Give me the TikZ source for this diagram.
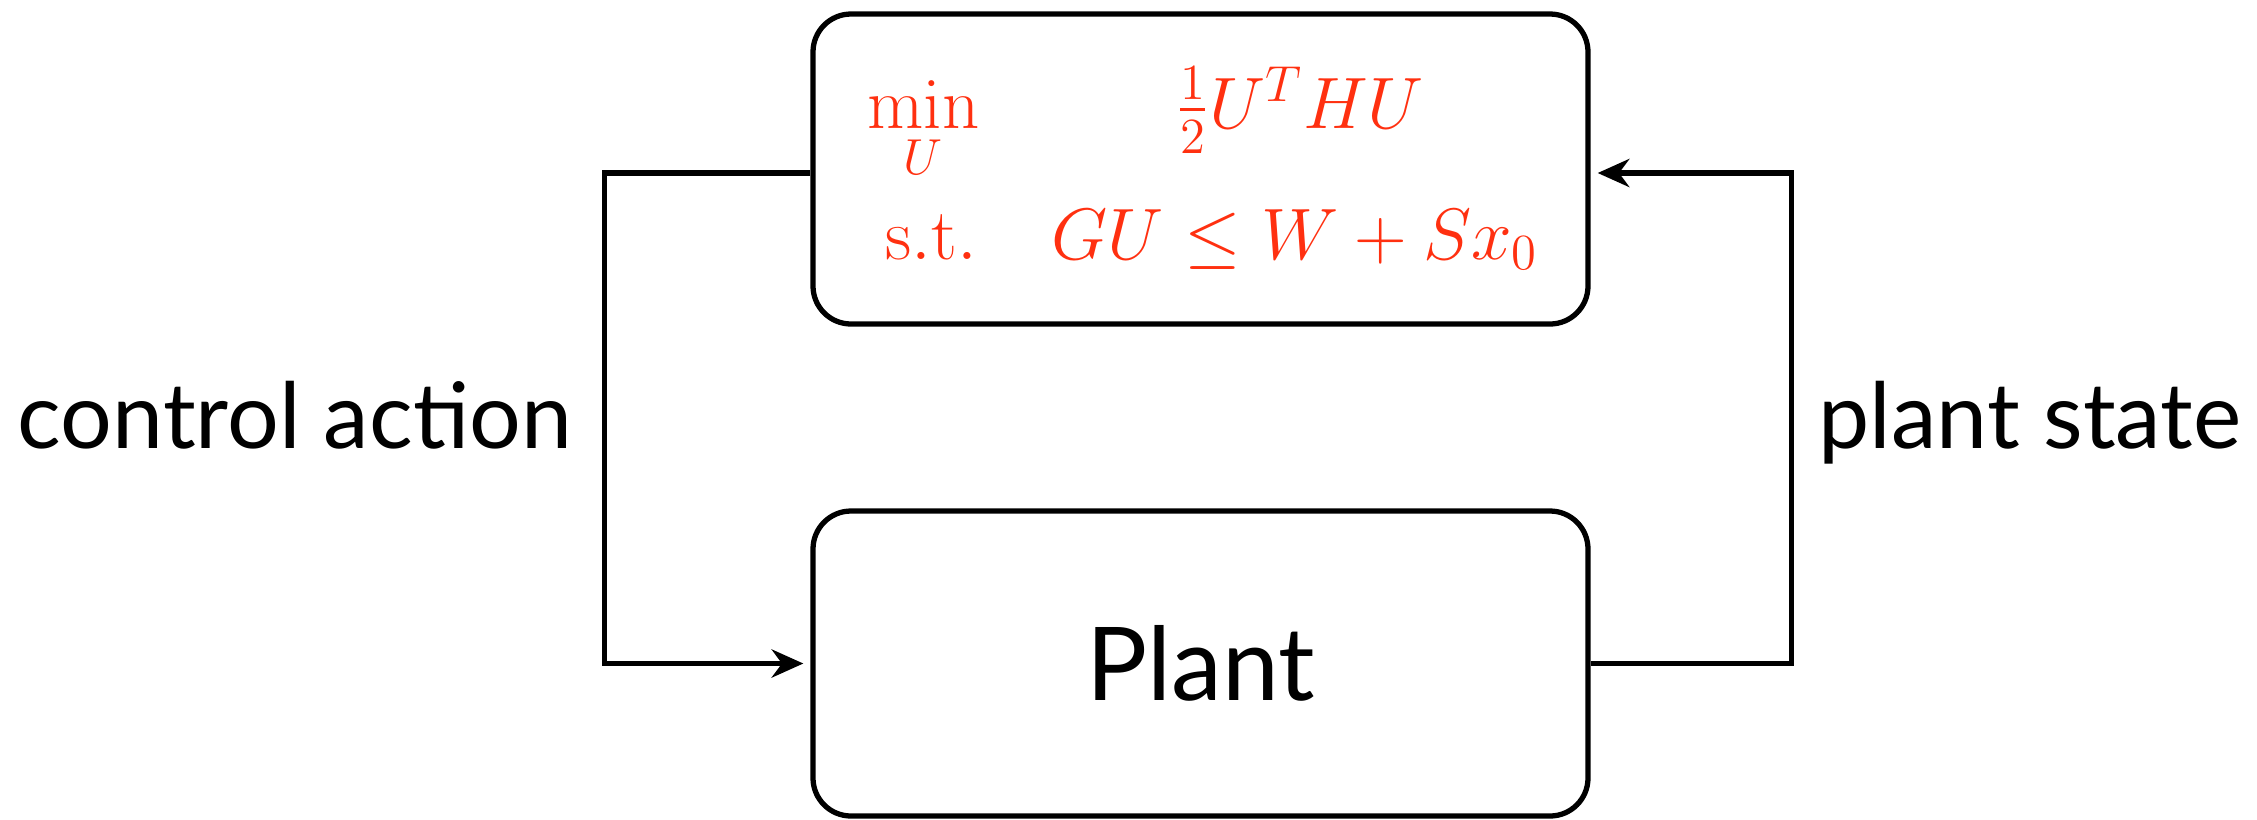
\documentclass[tikz,border=0pt]{standalone}
\usepackage{amsmath,amssymb}
\usepackage[no-math]{fontspec}
\setmainfont{Lato}
\usepackage{tikz}
\usetikzlibrary{arrows.meta,positioning,calc}
\usepackage{xcolor}
\definecolor{qpred}{HTML}{FF3010}

\tikzset{
  block/.style={draw, line width=1.5pt, rounded corners=0.38cm,
    minimum width=7.75cm, inner sep=0pt},
  flow/.style={draw, line width=1.5pt, -{Stealth[length=9pt,width=8pt]},
    shorten >=2pt},
  loopname/.style={font=\fontsize{26}{31}\selectfont, anchor=base},
  qp/.style={text=qpred, font=\fontsize{20}{24}\selectfont, inner sep=0pt}
}

\begin{document}
\begin{tikzpicture}
      \useasboundingbox (0,0) rectangle (22.57,-8.19);
      % Controller and plant blocks
      \node[block, minimum height=3.10cm] (opt) at (12.005,-1.69) {};
      \node[block, minimum height=3.05cm, font=\fontsize{29}{35}\selectfont]
        (plant) at (12.005,-6.635) {Plant};
      % Quadratic program inside the controller
      \node[qp, anchor=base east] (minU) at (9.80,-1.28) {$\displaystyle\min_U$};
      \node[qp, anchor=base] (cost) at (13.00,-1.28) {$\tfrac{1}{2}U^T H U$};
      \node[qp, anchor=base east] (st) at (9.78,-2.59) {$\mathrm{s.t.}$};
      \node[qp, anchor=base] (cons) at (12.95,-2.59) {$GU \leq W + Sx_0$};
      % Feedback loop
      \coordinate (optin) at ($(opt.east)+(0,-0.04)$);
      \coordinate (optout) at ($(opt.west)+(0,-0.04)$);
      \draw[flow] (optout) -- ++(-2.06,0) |- (plant.west);
      \draw[flow] (plant.east) -- ++(2.01,0) |- (optin);
      \node[loopname] (action) at (2.95,-4.48) {control action};
      \node[loopname] (state) at (20.30,-4.48) {plant state};
    \end{tikzpicture}
\end{document}
